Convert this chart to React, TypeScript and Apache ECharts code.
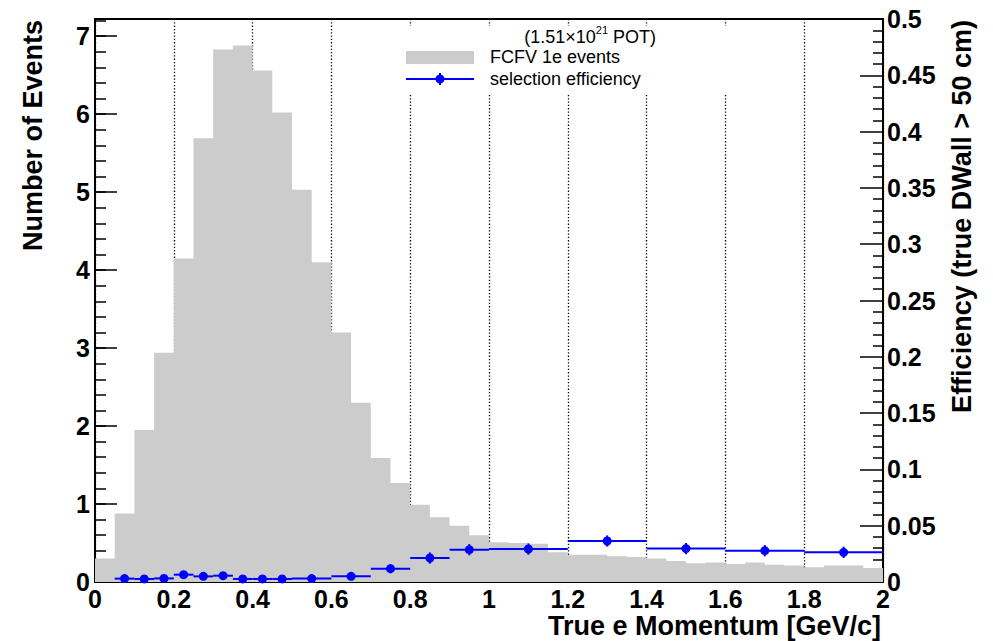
import React, { useEffect, useRef } from "react";
import * as echarts from "echarts";

// ---------- data ----------
// histogram bin edges (GeV/c) and contents (Number of Events)
const histEdges = [
  0, 0.05, 0.1, 0.15, 0.2, 0.25, 0.3, 0.35, 0.4, 0.45, 0.5, 0.55, 0.6, 0.65,
  0.7, 0.75, 0.8, 0.85, 0.9, 0.95, 1.0, 1.05, 1.1, 1.15, 1.2, 1.25, 1.3, 1.35,
  1.4, 1.45, 1.5, 1.55, 1.6, 1.65, 1.7, 1.75, 1.8, 1.85, 1.9, 1.95, 2.0,
];
const histCounts = [
  0.3, 0.88, 1.95, 2.94, 4.15, 5.69, 6.83, 6.88, 6.56, 6.02, 5.03, 4.1, 3.2,
  2.3, 1.59, 1.27, 0.99, 0.83, 0.72, 0.6, 0.51, 0.5, 0.49, 0.38, 0.35, 0.35,
  0.33, 0.32, 0.3, 0.27, 0.24, 0.25, 0.23, 0.25, 0.22, 0.21, 0.19, 0.21, 0.21,
  0.18,
];

// efficiency bins
const effLow = [
  0.05, 0.1, 0.15, 0.2, 0.25, 0.3, 0.35, 0.4, 0.45, 0.5, 0.6, 0.7, 0.8, 0.9,
  1.0, 1.2, 1.4, 1.6, 1.8,
];
const effHigh = [
  0.1, 0.15, 0.2, 0.25, 0.3, 0.35, 0.4, 0.45, 0.5, 0.6, 0.7, 0.8, 0.9, 1.0,
  1.2, 1.4, 1.6, 1.8, 2.0,
];
const effValues = [
  0.003, 0.0027, 0.0032, 0.0065, 0.005, 0.0056, 0.0027, 0.0027, 0.0027, 0.003,
  0.005, 0.0118, 0.0213, 0.0287, 0.0293, 0.0364, 0.0297, 0.0278, 0.0264,
];
const effErrors = [
  0.002, 0.002, 0.002, 0.003, 0.003, 0.003, 0.002, 0.002, 0.002, 0.002, 0.003,
  0.004, 0.005, 0.005, 0.005, 0.005, 0.005, 0.005, 0.005,
];

const xTitle = "True e Momentum [GeV/c]";
const yLeftTitle = "Number of Events";
const yRightTitle = "Efficiency (true DWall > 50 cm)";
const legendHist = "FCFV 1e events";
const legendEff = "selection efficiency";

const FONT = '"Liberation Sans", Arial, Helvetica, sans-serif';
const GRAY = "#cccccc";
const BLUE = "#0000ff";

export default function App() {
  const ref = useRef<HTMLDivElement>(null);

  useEffect(() => {
    if (!ref.current) return;
    const chart = echarts.init(ref.current, undefined, { renderer: "svg" });

    const histData: number[][] = histCounts.map((c, i) => [histEdges[i], c]);
    histData.push([histEdges[histEdges.length - 1], histCounts[histCounts.length - 1]]);

    const effData = effValues.map((v, i) => [
      effLow[i],
      effHigh[i],
      (effLow[i] + effHigh[i]) / 2,
      v,
      effErrors[i],
    ]);

    const labelStyle = {
      color: "#000",
      fontFamily: FONT,
      fontWeight: "bold" as const,
      fontSize: 25,
    };

    const option: any = {
      animation: false,
      backgroundColor: "#fff",
      grid: {
        left: 95,
        right: 110,
        top: 19,
        bottom: 59,
        show: true,
        borderColor: "#000",
        borderWidth: 2,
        backgroundColor: "transparent",
      },
      xAxis: {
        type: "value",
        min: 0,
        max: 2,
        interval: 0.2,
        axisLine: { show: true, onZero: false, lineStyle: { color: "#000", width: 2 } },
        axisTick: { show: true, inside: true, length: 16, lineStyle: { color: "#000", width: 1.5 } },
        minorTick: { show: true, splitNumber: 4, length: 8, lineStyle: { color: "#000", width: 1.5 } },
        axisLabel: { ...labelStyle, margin: 4 },
        splitLine: { show: true, lineStyle: { color: "#000", width: 1.3, type: [1.3, 2] } },
      },
      yAxis: [
        {
          type: "value",
          position: "left",
          min: 0,
          max: 7.22,
          interval: 1,
          axisLine: { show: true, onZero: false, lineStyle: { color: "#000", width: 2 } },
          axisTick: { show: true, inside: true, length: 22, lineStyle: { color: "#000", width: 1.5 } },
          axisLabel: { ...labelStyle, margin: 5, showMaxLabel: false },
          splitLine: { show: false },
        },
        {
          type: "value",
          position: "left",
          min: 0,
          max: 7.22,
          interval: 0.2,
          axisLine: { show: false },
          axisTick: { show: true, inside: true, length: 11, lineStyle: { color: "#000", width: 1.5 } },
          axisLabel: { show: false },
          splitLine: { show: false },
        },
        {
          type: "value",
          position: "right",
          min: 0,
          max: 0.5,
          interval: 0.05,
          axisLine: { show: true, onZero: false, lineStyle: { color: "#000", width: 2 } },
          axisTick: { show: true, inside: true, length: 23, lineStyle: { color: "#000", width: 1.5 } },
          minorTick: { show: true, splitNumber: 5, length: 10, lineStyle: { color: "#000", width: 1.5 } },
          axisLabel: { ...labelStyle, margin: 4 },
          splitLine: { show: false },
        },
      ],
      series: [
        {
          name: legendHist,
          type: "line",
          step: "end",
          yAxisIndex: 0,
          data: histData,
          showSymbol: false,
          symbol: "none",
          lineStyle: { width: 0, color: GRAY, opacity: 0 },
          areaStyle: { color: GRAY, opacity: 1 },
          z: 2,
        },
        {
          name: legendEff,
          type: "custom",
          yAxisIndex: 2,
          data: effData,
          z: 5,
          renderItem: (params: any, api: any) => {
            const lo = api.value(0);
            const hi = api.value(1);
            const c = api.value(2);
            const v = api.value(3);
            const e = api.value(4);
            const pL = api.coord([lo, v]);
            const pR = api.coord([hi, v]);
            const pC = api.coord([c, v]);
            const pT = api.coord([c, v + e]);
            const pB = api.coord([c, Math.max(0, v - e)]);
            return {
              type: "group",
              children: [
                {
                  type: "line",
                  shape: { x1: pL[0], y1: pL[1], x2: pR[0], y2: pR[1] },
                  style: { stroke: BLUE, lineWidth: 2 },
                },
                {
                  type: "line",
                  shape: { x1: pC[0], y1: pT[1], x2: pC[0], y2: pB[1] },
                  style: { stroke: BLUE, lineWidth: 2 },
                },
                {
                  type: "circle",
                  shape: { cx: pC[0], cy: pC[1], r: 4.5 },
                  style: { fill: BLUE },
                },
              ],
            };
          },
        },
      ],
      graphic: [
        // legend box
        {
          type: "rect",
          z: 100,
          shape: { x: 398, y: 26, width: 337, height: 67 },
          style: { fill: "#fff" },
        },
        {
          type: "rect",
          z: 101,
          shape: { x: 406, y: 51, width: 68, height: 13 },
          style: { fill: GRAY },
        },
        {
          type: "line",
          z: 101,
          shape: { x1: 406, y1: 79, x2: 474, y2: 79 },
          style: { stroke: BLUE, lineWidth: 2 },
        },
        {
          type: "line",
          z: 101,
          shape: { x1: 440, y1: 73, x2: 440, y2: 85 },
          style: { stroke: BLUE, lineWidth: 2 },
        },
        {
          type: "circle",
          z: 102,
          shape: { cx: 440, cy: 79, r: 4.5 },
          style: { fill: BLUE },
        },
        {
          type: "text",
          z: 102,
          x: 490,
          y: 57,
          style: {
            text: legendHist,
            fill: "#000",
            fontFamily: FONT,
            fontSize: 18,
            align: "left",
            verticalAlign: "middle",
          },
        },
        {
          type: "text",
          z: 102,
          x: 490,
          y: 79,
          style: {
            text: legendEff,
            fill: "#000",
            fontFamily: FONT,
            fontSize: 18,
            align: "left",
            verticalAlign: "middle",
          },
        },
        {
          type: "text",
          z: 102,
          x: 656,
          y: 35,
          style: {
            text: "{a|(1.51×10}{s|21}{a| POT)}",
            fill: "#000",
            fontFamily: FONT,
            fontSize: 18,
            align: "right",
            verticalAlign: "middle",
            rich: {
              a: { fontFamily: FONT, fontSize: 18, lineHeight: 22, verticalAlign: "bottom" },
              s: { fontFamily: FONT, fontSize: 11, lineHeight: 22, verticalAlign: "top", padding: [0, 0, 0, 0] },
            },
          },
        },
        // axis titles
        {
          type: "text",
          z: 102,
          x: 881,
          y: 626,
          style: {
            text: xTitle,
            fill: "#000",
            fontFamily: FONT,
            fontWeight: "bold",
            fontSize: 27,
            align: "right",
            verticalAlign: "middle",
          },
        },
        {
          type: "text",
          z: 102,
          x: 33,
          y: 20,
          rotation: Math.PI / 2,
          style: {
            text: yLeftTitle,
            fill: "#000",
            fontFamily: FONT,
            fontWeight: "bold",
            fontSize: 27,
            align: "right",
            verticalAlign: "middle",
          },
        },
        {
          type: "text",
          z: 102,
          x: 962,
          y: 20,
          rotation: Math.PI / 2,
          style: {
            text: yRightTitle,
            fill: "#000",
            fontFamily: FONT,
            fontWeight: "bold",
            fontSize: 27,
            align: "right",
            verticalAlign: "middle",
          },
        },
      ],
    };

    chart.setOption(option);
    return () => {
      chart.dispose();
    };
  }, []);

  return (
    <div
      ref={ref}
      style={{
        position: "fixed",
        left: 0,
        top: 0,
        width: 993,
        height: 641,
        background: "#fff",
      }}
    />
  );
}
